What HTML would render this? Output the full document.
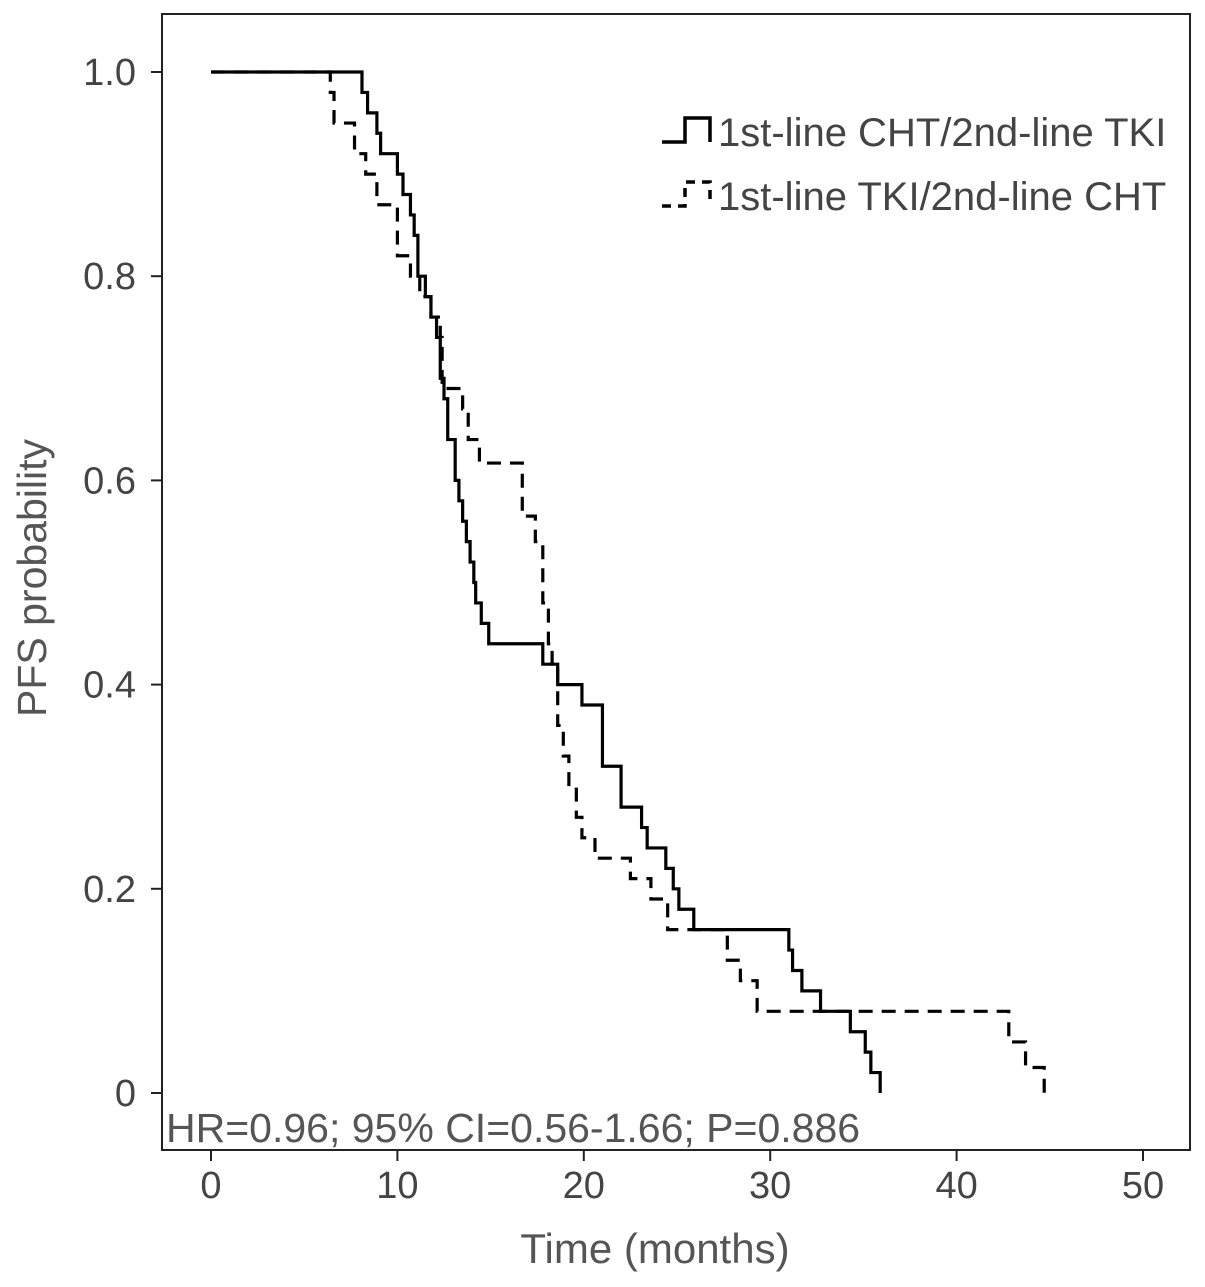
<!DOCTYPE html>
<html><head><meta charset="utf-8"><style>
body{margin:0;background:#fff}
svg{display:block;font-family:"Liberation Sans",sans-serif}
</style></head><body>
<svg id="c" width="1205" height="1287" viewBox="0 0 1205 1287">
<rect x="162" y="14" width="1028" height="1136" fill="none" stroke="#222" stroke-width="2"/>
<g id="axes"></g>
<g id="curves"></g>
<text x="655" y="1263" font-size="42" fill="#555" text-anchor="middle">Time (months)</text>
<text transform="translate(46,578) rotate(-90)" font-size="41" fill="#555" text-anchor="middle">PFS probability</text>
<text x="166" y="1142" font-size="41" fill="#555">HR=0.96; 95% CI=0.56-1.66; P=0.886</text>
<g>
<path d="M662,142 H685 V118 H710 V142" fill="none" stroke="#000" stroke-width="3.5"/>
<text x="718" y="146" font-size="40" fill="#444">1st-line CHT/2nd-line TKI</text>
<path d="M662,206 H685 V182 H710 V206" fill="none" stroke="#000" stroke-width="3.5" stroke-dasharray="9,7"/>
<text x="718" y="210" font-size="40" fill="#444">1st-line TKI/2nd-line CHT</text>
</g>
</svg>
<script>
const xTicks=[0,10,20,30,40,50];
const yTicks=[0,0.2,0.4,0.6,0.8,1.0];
const yTickLabels=["0","0.2","0.4","0.6","0.8","1.0"];
const solidTimes=[8.1,8.4,8.9,9.1,10.0,10.3,10.7,10.9,11.1,11.5,11.8,12.1,12.3,12.5,12.7,13.1,13.3,13.5,13.7,13.9,14.1,14.2,14.5,14.9,17.8,18.6,19.9,21.0,22.0,23.1,23.4,24.4,24.8,25.1,25.9,31.0,31.2,31.7,32.7,34.3,35.1,35.4,35.9];
const solidProbs=[0.98,0.96,0.94,0.92,0.90,0.88,0.86,0.84,0.80,0.78,0.76,0.74,0.70,0.68,0.64,0.60,0.58,0.56,0.54,0.52,0.50,0.48,0.46,0.44,0.42,0.40,0.38,0.32,0.28,0.26,0.24,0.22,0.20,0.18,0.16,0.14,0.12,0.10,0.08,0.06,0.04,0.02,0.0];
const dashTimes=[6.4,6.6,7.7,8.3,8.9,10.0,10.7,11.2,11.8,12.3,12.4,13.5,13.8,14.4,16.7,17.4,17.8,18.1,18.3,18.6,18.9,19.2,19.6,19.9,20.6,22.5,23.6,24.5,27.7,28.4,29.3,42.8,43.7,44.7];
const dashProbs=[0.98,0.95,0.92,0.90,0.87,0.82,0.80,0.78,0.76,0.74,0.69,0.67,0.64,0.617,0.565,0.54,0.48,0.44,0.42,0.36,0.33,0.30,0.27,0.25,0.23,0.21,0.19,0.16,0.13,0.11,0.08,0.05,0.025,0.0];

const NS="http://www.w3.org/2000/svg";
const xS=t=>211+t*18.64;
const yS=p=>1093-p*1021;
const ax=document.getElementById('axes');
function mk(tag,attrs,parent){const e=document.createElementNS(NS,tag);for(const k in attrs)e.setAttribute(k,attrs[k]);parent.appendChild(e);return e;}
xTicks.forEach(t=>{
  const l=mk('line',{x1:xS(t),x2:xS(t),y1:1150,y2:1161,stroke:'#222','stroke-width':2},ax);
  
  
  const tx=mk('text',{x:xS(t),y:1198,'font-size':38,fill:'#444','text-anchor':'middle'},ax);
  tx.textContent=t;
  
  
});
yTicks.forEach((p,i)=>{
  const l=mk('line',{x1:151,x2:162,y1:yS(p),y2:yS(p),stroke:'#222','stroke-width':2},ax);
  
  
  const tx=mk('text',{x:136,y:yS(p)+13,'font-size':38,fill:'#444','text-anchor':'end'},ax);
  tx.textContent=yTickLabels[i];
  
  
});
function stepPath(times,probs){
  let d='M'+xS(0)+','+yS(1);
  times.forEach((t,i)=>{d+=' H'+xS(t)+' V'+yS(probs[i]);});
  return d;
}
const cg=document.getElementById('curves');
const s=mk('path',{d:stepPath(solidTimes,solidProbs),fill:'none',stroke:'#000','stroke-width':3.2},cg);


const d=mk('path',{d:stepPath(dashTimes,dashProbs),fill:'none',stroke:'#000','stroke-width':3.2,'stroke-dasharray':'14,9'},cg);


</script>
</body></html>
